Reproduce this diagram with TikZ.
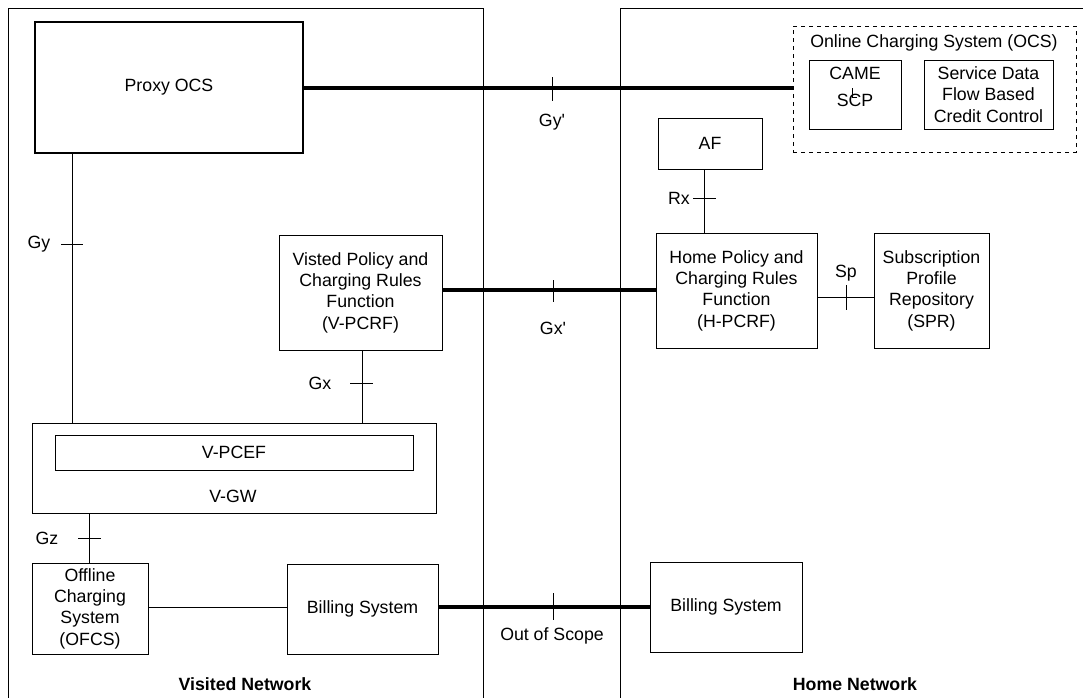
\documentclass[tikz,border=0pt]{standalone}
\usepackage{fontspec}
\setmainfont{Liberation Sans}
\usetikzlibrary{fit}
\begin{document}
\begin{tikzpicture}[x=0.75pt,y=-0.75pt,
  every node/.style={font=\fontsize{13.3}{16}\selectfont},
  box/.style={draw,line width=0.75pt,inner sep=0pt},
  txt/.style={inner sep=0pt,align=center},
  thin/.style={line width=0.75pt},
  thick line/.style={line width=3.2pt},
  lbl/.style={inner sep=1pt}]
\useasboundingbox (0,0) rectangle (1083,697);
% network frames
\draw[thin] (8,700) -- (8,8) -- (483,8) -- (483,700);
\draw[thin] (620,700) -- (620,8) -- (1090,8);
% boxes
\node[box,line width=1.6pt,fit={(35,22)(303,153)}] (proxy) {};
\node[txt] (proxyt) at (proxy.center) {Proxy OCS};
\node[box,dashed,fit={(793,26)(1076,152)}] (ocs) {};
\node[lbl] (ocslbl) at (934,43) {Online Charging System (OCS)};
\node[box,fit={(809,60)(901,129)}] (camel) {};
\node[lbl] (came) at (855,73) {CAME};
\node[lbl] (scp) at (855,100) {SCP};
\coordinate (lA) at (852,88);
\coordinate (lB) at (852,97);
\coordinate (lC) at (857,97);
\draw[thin] (lA) -- (lB) -- (lC);
\node[box,fit={(924,60)(1053,129)}] (sdf) {};
\node[txt] (sdft) at (sdf.center) {Service Data\\Flow Based\\Credit Control};
\node[box,fit={(658,118)(762,169)}] (af) {};
\node[txt] (aft) at (af.center) {AF};
\node[box,fit={(656,233)(817,348)}] (hpcrf) {};
\node[txt] (hpcrft) at (hpcrf.center) {Home Policy and\\Charging Rules\\Function\\(H-PCRF)};
\node[box,fit={(874,233)(989,348)}] (spr) {};
\node[txt] (sprt) at (spr.center) {Subscription\\Profile\\Repository\\(SPR)};
\node[box,fit={(279,235)(442,350)}] (vpcrf) {};
\node[txt] (vpcrft) at (vpcrf.center) {Visted Policy and\\Charging Rules\\Function\\(V-PCRF)};
\node[box,fit={(32,423)(436,513)}] (vgw) {};
\node[box,fit={(55,435)(413,470)}] (vpcef) {};
\node[txt] (vpceft) at (vpcef.center) {V-PCEF};
\node[lbl] (vgwlbl) at (233,496) {V-GW};
\node[box,fit={(32,563)(148,654)}] (ofcs) {};
\node[txt] (ofcst) at (ofcs.center) {Offline\\Charging\\System\\(OFCS)};
\node[box,fit={(287,564)(438,654)}] (vbill) {};
\node[txt] (vbillt) at (vbill.center) {Billing System};
\node[box,fit={(650,562)(802,652)}] (hbill) {};
\node[txt] (hbillt) at (hbill.center) {Billing System};
% connector helper coordinates
\coordinate (gyx) at (72,0);
\coordinate (gxx) at (362,0);
\coordinate (gzx) at (89,0);
\coordinate (rxx) at (704,0);
\coordinate (gyy) at (0,88);
\coordinate (gxy) at (0,290);
\coordinate (spy) at (0,297);
\coordinate (by) at (0,607);
% connectors
\draw[thick line] (proxy.east |- gyy) -- (ocs.west |- gyy);
\draw[thick line] (vpcrf.east |- gxy) -- (hpcrf.west |- gxy);
\draw[thick line] (vbill.east |- by) -- (hbill.west |- by);
\draw[thin] (proxy.south -| gyx) -- (vgw.north -| gyx);
\draw[thin] (vpcrf.south -| gxx) -- (vgw.north -| gxx);
\draw[thin] (vgw.south -| gzx) -- (ofcs.north -| gzx);
\draw[thin] (af.south -| rxx) -- (hpcrf.north -| rxx);
\draw[thin] (hpcrf.east |- spy) -- (spr.west |- spy);
\draw[thin] (ofcs.east |- by) -- (vbill.west |- by);
% ticks
\draw[thin] (552,77) -- (552,101);
\draw[thin] (553,280) -- (553,302);
\draw[thin] (553,593) -- (553,620);
\draw[thin] (61,244) -- (83,244);
\draw[thin] (350,383) -- (373,383);
\draw[thin] (78,538) -- (101,538);
\draw[thin] (693,198) -- (716,198);
\draw[thin] (846,285) -- (846,310);
% interface labels
\node[lbl] (gyp) at (552,122) {Gy\textquotesingle};
\node[lbl] (gxp) at (553,328) {Gx\textquotesingle};
\node[lbl] (oos) at (552,636) {Out of Scope};
\node[lbl] (gy) at (39,244) {Gy};
\node[lbl] (gx) at (320,383) {Gx};
\node[lbl] (gz) at (47,538) {Gz};
\node[lbl] (rx) at (679,198) {Rx};
\node[lbl] (sp) at (846,273) {Sp};
% network titles
\node[lbl,font=\fontsize{13.3}{16}\selectfont\bfseries] (vn) at (245,684) {Visited Network};
\node[lbl,font=\fontsize{13.3}{16}\selectfont\bfseries] (hn) at (855,684) {Home Network};
\end{tikzpicture}
\end{document}
